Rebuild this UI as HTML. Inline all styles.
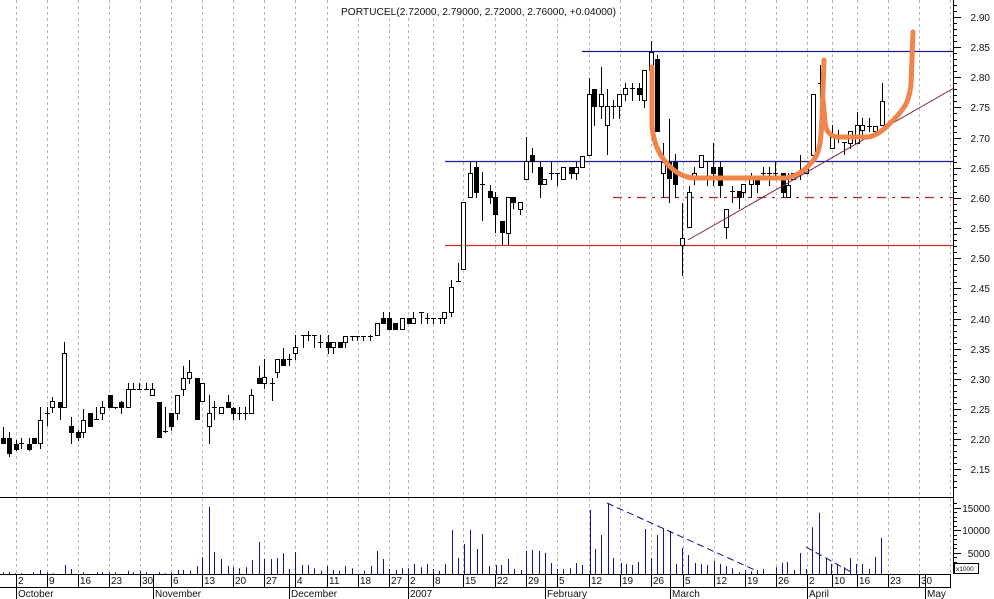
<!DOCTYPE html>
<html><head><meta charset="utf-8">
<style>
html,body{margin:0;padding:0;background:#fff;}
svg{display:block;}
text{font-family:"Liberation Sans",Arial,sans-serif;fill:#111;}
</style></head>
<body>
<svg id="c" width="994" height="599" viewBox="0 0 994 599" xmlns="http://www.w3.org/2000/svg">
<rect x="0" y="0" width="994" height="599" fill="#fff"/>
<g id="grid"></g>
<g id="levels"></g>
<g id="vol"></g>
<g id="candles"></g>
<g id="over"></g>
<g id="axis"></g>
<rect x="338" y="0" width="282" height="17" fill="#fff"/>
<text x="341" y="15" font-size="10.5" textLength="275" lengthAdjust="spacingAndGlyphs">PORTUCEL(2.72000, 2.79000, 2.72000, 2.76000, +0.04000)</text>
<g font-size="10" text-anchor="end">
<text x="990" y="21">2.90</text>
<text x="990" y="51">2.85</text>
<text x="990" y="81">2.80</text>
<text x="990" y="111">2.75</text>
<text x="990" y="142">2.70</text>
<text x="990" y="172">2.65</text>
<text x="990" y="202">2.60</text>
<text x="990" y="232">2.55</text>
<text x="990" y="262">2.50</text>
<text x="990" y="292">2.45</text>
<text x="990" y="323">2.40</text>
<text x="990" y="353">2.35</text>
<text x="990" y="383">2.30</text>
<text x="990" y="413">2.25</text>
<text x="990" y="443">2.20</text>
<text x="990" y="473">2.15</text>
<text x="990" y="512">15000</text>
<text x="990" y="534">10000</text>
<text x="990" y="557">5000</text>
</g>
<rect x="954.5" y="563.5" width="24" height="10" fill="#fff" stroke="#000" stroke-width="1"/>
<text x="956" y="571" font-size="6.5">x1000</text>
<g font-size="10">
<text x="18" y="584">2</text>
<text x="49" y="584">9</text>
<text x="80" y="584">16</text>
<text x="111" y="584">23</text>
<text x="142" y="584">30</text>
<text x="173" y="584">6</text>
<text x="204" y="584">13</text>
<text x="235" y="584">20</text>
<text x="266" y="584">27</text>
<text x="297" y="584">4</text>
<text x="329" y="584">11</text>
<text x="360" y="584">18</text>
<text x="391" y="584">27</text>
<text x="410" y="584">2</text>
<text x="435" y="584">8</text>
<text x="465" y="584">15</text>
<text x="497" y="584">22</text>
<text x="528" y="584">29</text>
<text x="559" y="584">5</text>
<text x="591" y="584">12</text>
<text x="622" y="584">19</text>
<text x="653" y="584">26</text>
<text x="685" y="584">5</text>
<text x="716" y="584">12</text>
<text x="747" y="584">19</text>
<text x="778" y="584">26</text>
<text x="809" y="584">2</text>
<text x="834" y="584">10</text>
<text x="859" y="584">16</text>
<text x="890" y="584">23</text>
<text x="921" y="584">30</text>
<text x="18" y="597">October</text>
<text x="155" y="597">November</text>
<text x="291" y="597">December</text>
<text x="410" y="597">2007</text>
<text x="547" y="597">February</text>
<text x="672" y="597">March</text>
<text x="809" y="597">April</text>
<text x="927" y="597">May</text>
</g>
</svg>
<script>
(function(){
var NS='http://www.w3.org/2000/svg';
function el(parent,tag,a){var e=document.createElementNS(NS,tag);for(var k in a)e.setAttribute(k,a[k]);document.getElementById(parent).appendChild(e);return e;}
var gx=[15.6,46.7,78,109.3,140.3,171.3,202.3,233.3,264.3,295.3,326.7,358,389,408.3,432.7,463.3,494.7,526,557,589,620,651,683,714,745,776,807,832,857,888,919,950];
gx.forEach(function(x){var X=Math.round(x)+0.5;el('grid','line',{x1:X,y1:0,x2:X,y2:574,stroke:'#b8b8b8','stroke-width':1,'stroke-dasharray':'3,3'});});
el('levels','line',{x1:582,y1:51.5,x2:953,y2:51.5,stroke:'#1c1ca0','stroke-width':1.2});
el('levels','line',{x1:445,y1:161.5,x2:953,y2:161.5,stroke:'#1c1ca0','stroke-width':1.2});
el('levels','line',{x1:445,y1:245.5,x2:953,y2:245.5,stroke:'#d42a2a','stroke-width':1.3});
el('levels','line',{x1:613,y1:197.5,x2:953,y2:197.5,stroke:'#b02828','stroke-width':1.2,'stroke-dasharray':'9,6,3,6'});
var vb=[[2.7,572.3],[9,572.3],[15,573.3],[21.3,573.3],[33.3,572.3],[40.3,570],[46.7,572.3],[52.7,573.3],[65.3,565],[71,569],[83.3,572.3],[96.7,572.3],[102.3,572.3],[109,572.3],[115.3,572.3],[127.7,570.7],[133.3,572.3],[140,570.7],[146,572.3],[159.3,572.3],[165,573.3],[171.3,572.3],[177.7,570],[183.3,570],[190,570.7],[196.7,566],[202.3,557.3],[208.7,506.7],[214.3,552],[221,559],[227.7,566],[233.3,567.3],[239.3,568.3],[245.7,567.3],[252.3,560],[258.7,542],[264.3,559],[271,559],[277.3,558],[283.3,553.3],[289.3,569],[295.3,552],[302.3,565],[308.3,565],[314.3,568.3],[320.7,570.7],[327.3,566],[333.3,570],[339.3,570.7],[345.3,566],[351.7,568.3],[364.3,570.7],[370.7,566],[377,551],[383.3,559],[389.3,569],[395.7,570],[401.7,568.3],[408.3,568.3],[414.3,564],[420.7,567.3],[426.7,564],[432.7,569],[439.3,570.7],[445.3,564],[451.7,530],[458,558],[464,544],[470,530],[476.7,549],[482.3,534],[489.3,566],[495.7,565],[501.3,565],[508.3,559],[514,569],[520.7,570],[526.3,551],[532.3,550],[539,551],[544.7,553],[551.3,563],[557.3,569.3],[563.3,569],[570,568.3],[575.7,563],[582.3,565],[589.7,510],[594.7,549],[601.3,535],[607.7,503.3],[613.3,558],[620.7,563],[626.3,564],[632.3,565],[638.3,562],[644.7,529],[651.3,558],[656.7,535],[663.3,528.3],[669.7,531],[675.7,564],[682.3,548],[688.3,555],[694.7,563],[700.7,564],[707.3,565],[714,561],[719.7,564],[726.3,566],[732.3,568.3],[739,572.3],[744.7,570],[750.7,571.3],[757.3,570],[763.3,569],[769.7,573.7],[775.7,567.3],[781.7,563],[787.3,562],[794,570],[800,553],[806.3,569],[812.3,527.3],[819,512.7],[825.7,558],[831.3,564],[837.3,565],[844,567.3],[850,558],[856.3,564],[862.3,564],[869,569],[875,557],[881.3,538]];
vb.forEach(function(b){var X=Math.round(b[0])+0.5;el('vol','line',{x1:X,y1:b[1],x2:X,y2:574,stroke:'#101090','stroke-width':1});});
el('vol','line',{x1:607,y1:503,x2:757,y2:571,stroke:'#101080','stroke-width':1,'stroke-dasharray':'7,4'});
el('vol','line',{x1:806,y1:547,x2:851,y2:572,stroke:'#101080','stroke-width':1,'stroke-dasharray':'7,4'});
var cd=[[3,427,443,438,443,1],[9,432,456,438,453,1],[16,440,450,444,449,1],[21,438,448,443,443,0],[29,438,450,444,449,1],[34,438,443,438,443,1],[40,407,448,420,443,0],[47,407,425,413,413,0],[52,397,412,401,407,0],[60,402,419,402,407,1],[64,342,407,353,407,0],[71,417,443,426,432,1],[78,430,440,432,437,1],[83,409,437,420,432,0],[90,413,426,413,426,1],[96,407,419,419,419,0],[102,401,419,407,413,0],[110,395,407,395,407,1],[115,407,408,407,407,0],[121,401,413,402,407,1],[128,383,407,389,407,0],[133,383,389,389,389,0],[139,383,389,389,389,0],[146,383,389,389,389,0],[152,383,395,389,395,0],[159,402,437,402,437,1],[165,407,432,431,431,0],[171,413,430,413,426,1],[177,395,419,395,413,0],[183,366,395,378,389,0],[189,360,383,372,378,0],[197,378,419,378,419,1],[202,383,401,383,401,0],[209,395,443,413,426,0],[214,401,419,407,407,0],[221,407,413,407,413,0],[228,395,407,402,407,1],[233,407,419,408,413,1],[239,407,419,413,413,0],[245,407,419,413,413,0],[251,389,413,395,413,0],[259,366,383,378,383,1],[264,359,388,377,383,0],[272,378,400,383,383,0],[277,359,377,359,372,0],[283,348,365,359,365,1],[289,354,365,359,359,0],[295,335,359,347,353,0],[303,335,347,335,335,0],[308,331,340,335,335,0],[314,335,347,335,335,0],[320,335,347,342,342,0],[328,335,353,342,347,1],[333,342,353,342,347,0],[340,342,347,342,347,1],[345,336,347,336,342,0],[352,336,340,336,336,0],[357,336,340,336,336,0],[363,336,340,336,336,0],[370,335,340,336,336,0],[377,323,335,323,335,0],[383,312,323,318,323,1],[389,312,329,318,329,1],[395,323,329,323,329,1],[402,318,329,318,329,0],[409,318,323,318,323,1],[413,312,323,318,323,0],[421,312,323,312,312,0],[427,313,323,318,318,0],[433,318,323,318,318,0],[440,318,323,318,318,0],[444,312,323,312,318,0],[451,280,316,287,312,0],[458,263,281,281,281,0],[463,202,269,202,269,0],[470,162,197,173,197,0],[476,162,197,167,192,1],[482,172,220,184,184,0],[490,185,203,191,197,1],[495,192,232,197,214,1],[502,221,244,221,232,1],[508,197,244,197,233,0],[513,197,208,197,202,1],[520,202,214,202,209,0],[526,137,179,161,179,0],[532,148,172,155,161,1],[540,162,197,167,184,1],[544,179,184,179,184,0],[551,162,179,173,173,0],[557,173,185,173,173,0],[563,167,179,167,179,0],[571,167,178,167,173,1],[576,162,179,167,173,0],[582,156,167,156,167,0],[589,78,155,94,155,0],[594,89,125,89,106,1],[601,67,118,94,106,0],[607,89,154,106,125,0],[613,100,118,106,106,0],[619,94,118,94,106,0],[625,83,100,88,94,0],[632,83,100,88,88,0],[639,83,100,88,94,1],[644,70,107,70,100,0],[651,41,70,52,70,0],[657,55,131,59,131,1],[663,143,197,162,173,0],[669,119,202,162,178,1],[675,154,197,162,184,1],[682,203,275,238,245,0],[689,186,227,192,227,0],[694,167,184,173,178,0],[701,155,167,155,167,0],[707,161,185,161,161,0],[713,143,185,167,173,1],[720,162,197,167,185,1],[726,209,238,209,227,0],[732,186,202,191,191,0],[739,191,208,191,197,1],[743,184,197,184,192,0],[751,173,197,179,184,0],[757,179,192,179,184,1],[763,167,179,173,173,0],[769,167,185,173,173,0],[775,162,179,173,173,0],[783,173,197,173,192,1],[788,173,197,185,197,0],[793,173,179,173,179,0],[800,155,179,173,173,0],[806,167,173,167,173,0],[813,94,155,94,155,0],[820,65,97,83,83,0],[832,125,148,137,148,0],[838,130,142,137,137,0],[844,142,154,142,142,0],[850,132,148,131,143,0],[857,112,143,125,143,0],[862,118,135,125,130,0],[869,118,131,126,126,0],[875,126,131,126,131,0],[882,83,125,101,125,0]];
cd.forEach(function(c){
  var X=Math.round(c[0]);
  el('candles','line',{x1:X+0.5,y1:c[1],x2:X+0.5,y2:c[2]+1,stroke:'#000','stroke-width':1});
  if(c[3]===c[4]){
    el('candles','line',{x1:X-2,y1:c[3]+0.5,x2:X+3,y2:c[3]+0.5,stroke:'#000','stroke-width':1});
  } else {
    el('candles','rect',{x:X-1.5,y:c[3]+0.5,width:4,height:c[4]-c[3],fill:c[5]?'#000':'#fff',stroke:'#000','stroke-width':1});
  }
});
el('over','line',{x1:688,y1:240,x2:954,y2:88,stroke:'#802040','stroke-width':1});
el('over','path',{d:'M652,67 L652,125 C653,140 657,150 664,160 C672,170 680,176 692,178 L786,178 C798,176 808,168 815,158 C820,150 821,140 822,118 L824,60',fill:'none',stroke:'#f0844a','stroke-width':5,'stroke-linecap':'round','stroke-linejoin':'round'});
el('over','path',{d:'M823,100 L825,122 C826,132 830,136 838,137 L868,137 C878,136 888,126 898,115 C906,106 909,100 911,85 L913,32',fill:'none',stroke:'#f0844a','stroke-width':5,'stroke-linecap':'round','stroke-linejoin':'round'});
el('axis','line',{x1:953.5,y1:0,x2:953.5,y2:574,stroke:'#000','stroke-width':1});
el('axis','line',{x1:0,y1:497.5,x2:953,y2:497.5,stroke:'#000','stroke-width':1});
el('axis','line',{x1:0,y1:574.5,x2:951,y2:574.5,stroke:'#000','stroke-width':1});
el('axis','line',{x1:0,y1:587.5,x2:951,y2:587.5,stroke:'#000','stroke-width':1});
el('axis','line',{x1:950.5,y1:574,x2:950.5,y2:588,stroke:'#000','stroke-width':1});
for(var i=-2;i<=78;i++){var p=2.90-i*0.01;var y=17+(2.90-p)*603;if(y<1||y>495)continue;var Y=Math.round(y)+0.5;var major=(i%5===0);el('axis','line',{x1:954,y1:Y,x2:major?961:957,y2:Y,stroke:'#000','stroke-width':1});}
for(var v=0;v<=16000;v+=1000){var y2=575-v*0.00447;if(y2<499||y2>573)continue;var Y2=Math.round(y2)+0.5;el('axis','line',{x1:954,y1:Y2,x2:(v%5000===0)?961:957,y2:Y2,stroke:'#000','stroke-width':1});}
var ds=[15.6,46.7,78,109.3,140.3,171.3,202.3,233.3,264.3,295.3,326.7,358,389,408.3,432.7,463.3,494.7,526,557,589,620,651,683,714,745,776,807,832,857,888,919];
ds.forEach(function(x){var X=Math.round(x)+0.5;el('axis','line',{x1:X,y1:574,x2:X,y2:588,stroke:'#000','stroke-width':1});});
var ms=[15.6,152.7,289.3,408.3,544.7,669.7,806.7,924.7];
ms.forEach(function(x){var X=Math.round(x)+0.5;el('axis','line',{x1:X,y1:574,x2:X,y2:599,stroke:'#000','stroke-width':1});});
})();
</script>
</body></html>
